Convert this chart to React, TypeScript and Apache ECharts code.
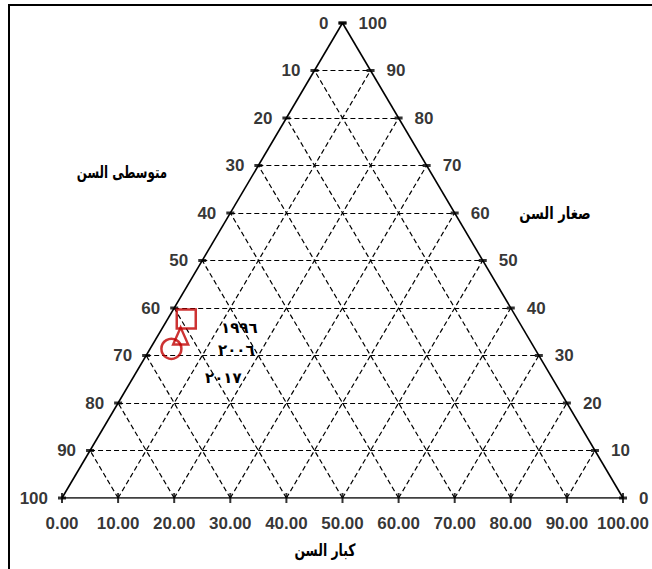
import React, { useEffect, useRef } from "react";
import * as echarts from "echarts";

// Tick values along each edge of the ternary diagram (percent)
const LEVELS = [0, 10, 20, 30, 40, 50, 60, 70, 80, 90, 100];
const middleTickLabels = ["0", "10", "20", "30", "40", "50", "60", "70", "80", "90", "100"];
const youngTickLabels = ["0", "10", "20", "30", "40", "50", "60", "70", "80", "90", "100"];
const oldTickLabels = ["0.00", "10.00", "20.00", "30.00", "40.00", "50.00", "60.00", "70.00", "80.00", "90.00", "100.00"];

// Population shares by age group for each census year
const years = ["١٩٩٦", "٢٠٠٦", "٢٠١٧"];
const youngPct = [37.7, 34.1, 31.4];
const middlePct = [59.0, 61.8, 64.8];
const oldPct = [3.3, 4.1, 3.8];
const markerSymbols = ["rect", "triangle", "circle"];
const markerSizes: [number, number][] = [[19, 19], [15, 17], [20, 20]];

// axis titles
const titleMiddle = "متوسطى السن";
const titleYoung = "صغار السن";
const titleOld = "كبار السن";

// ternary (old, young) -> cartesian plane where old runs along the base
const toXY = (old: number, young: number): [number, number] => [old + young / 2, young];

const NUM_FONT = "'Liberation Sans Narrow', 'Liberation Sans', Arial, sans-serif";
const AR_FONT = "'DejaVu Sans', 'Noto Sans', sans-serif";

export default function App() {
  const ref = useRef<HTMLDivElement>(null);

  useEffect(() => {
    if (!ref.current) return;
    const chart = echarts.init(ref.current, null, { renderer: "svg" });

    const inner = LEVELS.filter((v) => v > 0 && v < 100);
    const gridSegs: { coords: [number, number][] }[] = [];
    inner.forEach((k) => {
      gridSegs.push({ coords: [toXY(0, k), toXY(100 - k, k)] }); // constant young
      gridSegs.push({ coords: [toXY(k, 0), toXY(k, 100 - k)] }); // constant old
      gridSegs.push({ coords: [toXY(100 - k, 0), toXY(0, 100 - k)] }); // constant middle
    });
    const edgeSegs = [
      { coords: [toXY(0, 0), toXY(100, 0)] },
      { coords: [toXY(0, 0), toXY(0, 100)] },
      { coords: [toXY(100, 0), toXY(0, 100)] },
    ];

    // left edge: middle-aged share (old = 0)
    const leftTicks = LEVELS.map((m, i) => ({ value: toXY(0, 100 - m), name: middleTickLabels[i] }));
    // right edge: young share (middle = 0)
    const rightTicks = LEVELS.map((y, i) => ({ value: toXY(100 - y, y), name: youngTickLabels[i] }));
    // base: old share (young = 0)
    const bottomTicks = LEVELS.map((o, i) => ({ value: toXY(o, 0), name: oldTickLabels[i] }));

    const labelStyle = {
      show: true,
      color: "#000",
      fontFamily: NUM_FONT,
      fontWeight: "bold" as const,
      fontSize: 17,
      formatter: (p: any) => p.name,
    };

    const markerSeries = years.map((yr, i) => ({
      type: "scatter",
      name: yr,
      clip: false,
      symbol: markerSymbols[i],
      symbolSize: markerSizes[i],
      data: [{ value: toXY(oldPct[i], youngPct[i]), middle: middlePct[i] }],
      itemStyle: { color: "rgba(0,0,0,0)", borderColor: "#c00000", borderWidth: 2.5 },
      z: 10,
    }));

    const arTitle = (text: string, x: number, y: number, scaleX: number) => ({
      type: "text",
      x,
      y,
      scaleX,
      style: { text, font: `bold 17px ${AR_FONT}`, fill: "#000", align: "center", verticalAlign: "middle" },
    });

    const yearText = (text: string, x: number, y: number) => ({
      type: "text",
      x,
      y,
      style: { text, font: `bold 15px ${AR_FONT}`, fill: "#000", align: "left", verticalAlign: "middle" },
    });

    chart.setOption({
      animation: false,
      backgroundColor: "#fff",
      grid: { left: 62, top: 23, width: 561, height: 475 },
      xAxis: { type: "value", min: 0, max: 100, show: false },
      yAxis: { type: "value", min: 0, max: 100, show: false },
      series: [
        {
          type: "lines",
          coordinateSystem: "cartesian2d",
          data: gridSegs,
          lineStyle: { color: "#000", width: 1.2, type: [5, 3], opacity: 1 },
          silent: true,
          z: 1,
        },
        {
          type: "lines",
          coordinateSystem: "cartesian2d",
          data: edgeSegs,
          lineStyle: { color: "#000", width: 1.6, type: "solid", opacity: 1 },
          silent: true,
          z: 2,
        },
        {
          type: "scatter",
          clip: false,
          data: leftTicks,
          symbol: "rect",
          symbolSize: [8, 3],
          itemStyle: { color: "#000" },
          label: { ...labelStyle, position: "left", distance: 10 },
          z: 3,
        },
        {
          type: "scatter",
          clip: false,
          data: rightTicks,
          symbol: "rect",
          symbolSize: [8, 3],
          itemStyle: { color: "#000" },
          label: { ...labelStyle, position: "right", distance: 12 },
          z: 3,
        },
        {
          type: "scatter",
          clip: false,
          data: bottomTicks,
          symbol: "rect",
          symbolSize: [2, 10],
          itemStyle: { color: "#000" },
          label: { ...labelStyle, position: "bottom", distance: 12 },
          z: 3,
        },
        ...markerSeries,
      ],
      graphic: [
        { type: "line", shape: { x1: 8, y1: 5, x2: 652, y2: 5 }, style: { stroke: "#000", lineWidth: 2 } },
        { type: "line", shape: { x1: 9, y1: 4, x2: 9, y2: 569 }, style: { stroke: "#000", lineWidth: 2 } },
        arTitle(titleMiddle, 122, 172, 0.7),
        arTitle(titleYoung, 555, 213, 0.77),
        arTitle(titleOld, 325, 550, 0.73),
        yearText(years[0], 221, 328),
        yearText(years[1], 218, 350),
        yearText(years[2], 205, 378),
      ],
    });

    return () => chart.dispose();
  }, []);

  return (
    <div
      ref={ref}
      style={{ position: "absolute", left: 0, top: 0, width: 652, height: 569 }}
    />
  );
}
